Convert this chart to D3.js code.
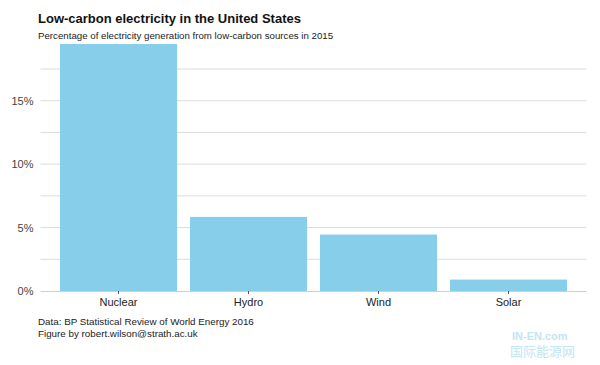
<!DOCTYPE html>
<html>
<head>
<meta charset="utf-8">
<script src="https://cdn.jsdelivr.net/npm/d3@7"></script>
<style>
  body { margin: 0; background: #fff; }
  svg { display: block; font-family: "Liberation Sans", Arial, sans-serif; }
</style>
</head>
<body>
<svg id="chart" width="600" height="365"></svg>
<script>
const sources = ['Nuclear', 'Hydro', 'Wind', 'Solar'];
const shares = [19.47, 5.84, 4.45, 0.9];
const yTicks = [0, 5, 10, 15];
const gridTicks = [2.5, 5, 7.5, 10, 12.5, 15, 17.5];

const MARGIN = {top: 44, right: 13.5, bottom: 74, left: 40.5};
const width = 600, height = 365;
const innerWidth = width - MARGIN.left - MARGIN.right;
const innerHeight = height - MARGIN.top - MARGIN.bottom;

function translate(x, y) {
  return `translate(${x}, ${y})`;
}

const svg = d3.select('#chart');
const data = sources.map((s, i) => ({source: s, value: shares[i]}));

const x = d3.scaleBand()
  .domain(sources)
  .range([0, innerWidth])
  .paddingInner(0.1)
  .paddingOuter(0.15);

const y = d3.scaleLinear()
  .domain([0, 19.47])
  .range([innerHeight, 0]);

const g = svg.append('g').attr('transform', translate(MARGIN.left, MARGIN.top));

// grid
g.selectAll('.grid')
  .data(gridTicks)
  .enter().append('line')
    .attr('class', 'grid')
    .attr('x1', 0)
    .attr('x2', innerWidth)
    .attr('y1', d => y(d))
    .attr('y2', d => y(d))
    .attr('stroke', '#dcdcdc')
    .attr('stroke-width', 1);

// bars
g.selectAll('.bar')
  .data(data)
  .enter().append('rect')
    .attr('class', 'bar')
    .attr('x', d => x(d.source))
    .attr('width', x.bandwidth())
    .attr('y', d => y(d.value))
    .attr('height', d => innerHeight - y(d.value))
    .attr('fill', '#87ceeb');

// x axis
const xAxis = g.append('g')
  .attr('transform', translate(0, innerHeight))
  .call(d3.axisBottom(x).tickSize(3).tickPadding(4));
xAxis.select('.domain').attr('stroke', '#cfcfcf').attr('d', `M0,0.5H${innerWidth}`);
xAxis.selectAll('.tick line').attr('stroke', '#555');
xAxis.selectAll('.tick text')
  .attr('fill', '#222')
  .style('font-size', '11px');

// y axis
const yAxis = g.append('g')
  .call(d3.axisLeft(y).tickValues(yTicks).tickSize(0).tickPadding(7)
    .tickFormat(d => d + '%'));
yAxis.select('.domain').remove();
yAxis.selectAll('.tick text')
  .attr('fill', '#444')
  .style('font-size', '11px');

// titles
svg.append('text')
  .attr('x', 38)
  .attr('y', 23)
  .attr('fill', '#111')
  .style('font-size', '13px')
  .style('font-weight', 'bold')
  .text('Low-carbon electricity in the United States');

svg.append('text')
  .attr('x', 38)
  .attr('y', 39)
  .attr('fill', '#222')
  .style('font-size', '9.7px')
  .text('Percentage of electricity generation from low-carbon sources in 2015');

// caption
const cap = svg.append('text')
  .attr('x', 38)
  .attr('y', 325)
  .attr('fill', '#222')
  .style('font-size', '9.8px');
cap.append('tspan').attr('x', 38).text('Data: BP Statistical Review of World Energy 2016');
cap.append('tspan').attr('x', 38).attr('dy', 12).text('Figure by robert.wilson@strath.ac.uk');

// watermark
const wm = svg.append('g').attr('opacity', 0.55);
wm.append('text')
  .attr('x', 512).attr('y', 340)
  .attr('fill', '#8fd0e8')
  .style('font-size', '11px')
  .style('font-weight', 'bold')
  .text('IN-EN.com');
wm.append('text')
  .attr('x', 510).attr('y', 356)
  .attr('fill', '#8fd0e8')
  .style('font-family', '"Noto Sans CJK SC", sans-serif')
  .style('font-size', '13px')
  .text('国际能源网');
</script>
</body>
</html>
